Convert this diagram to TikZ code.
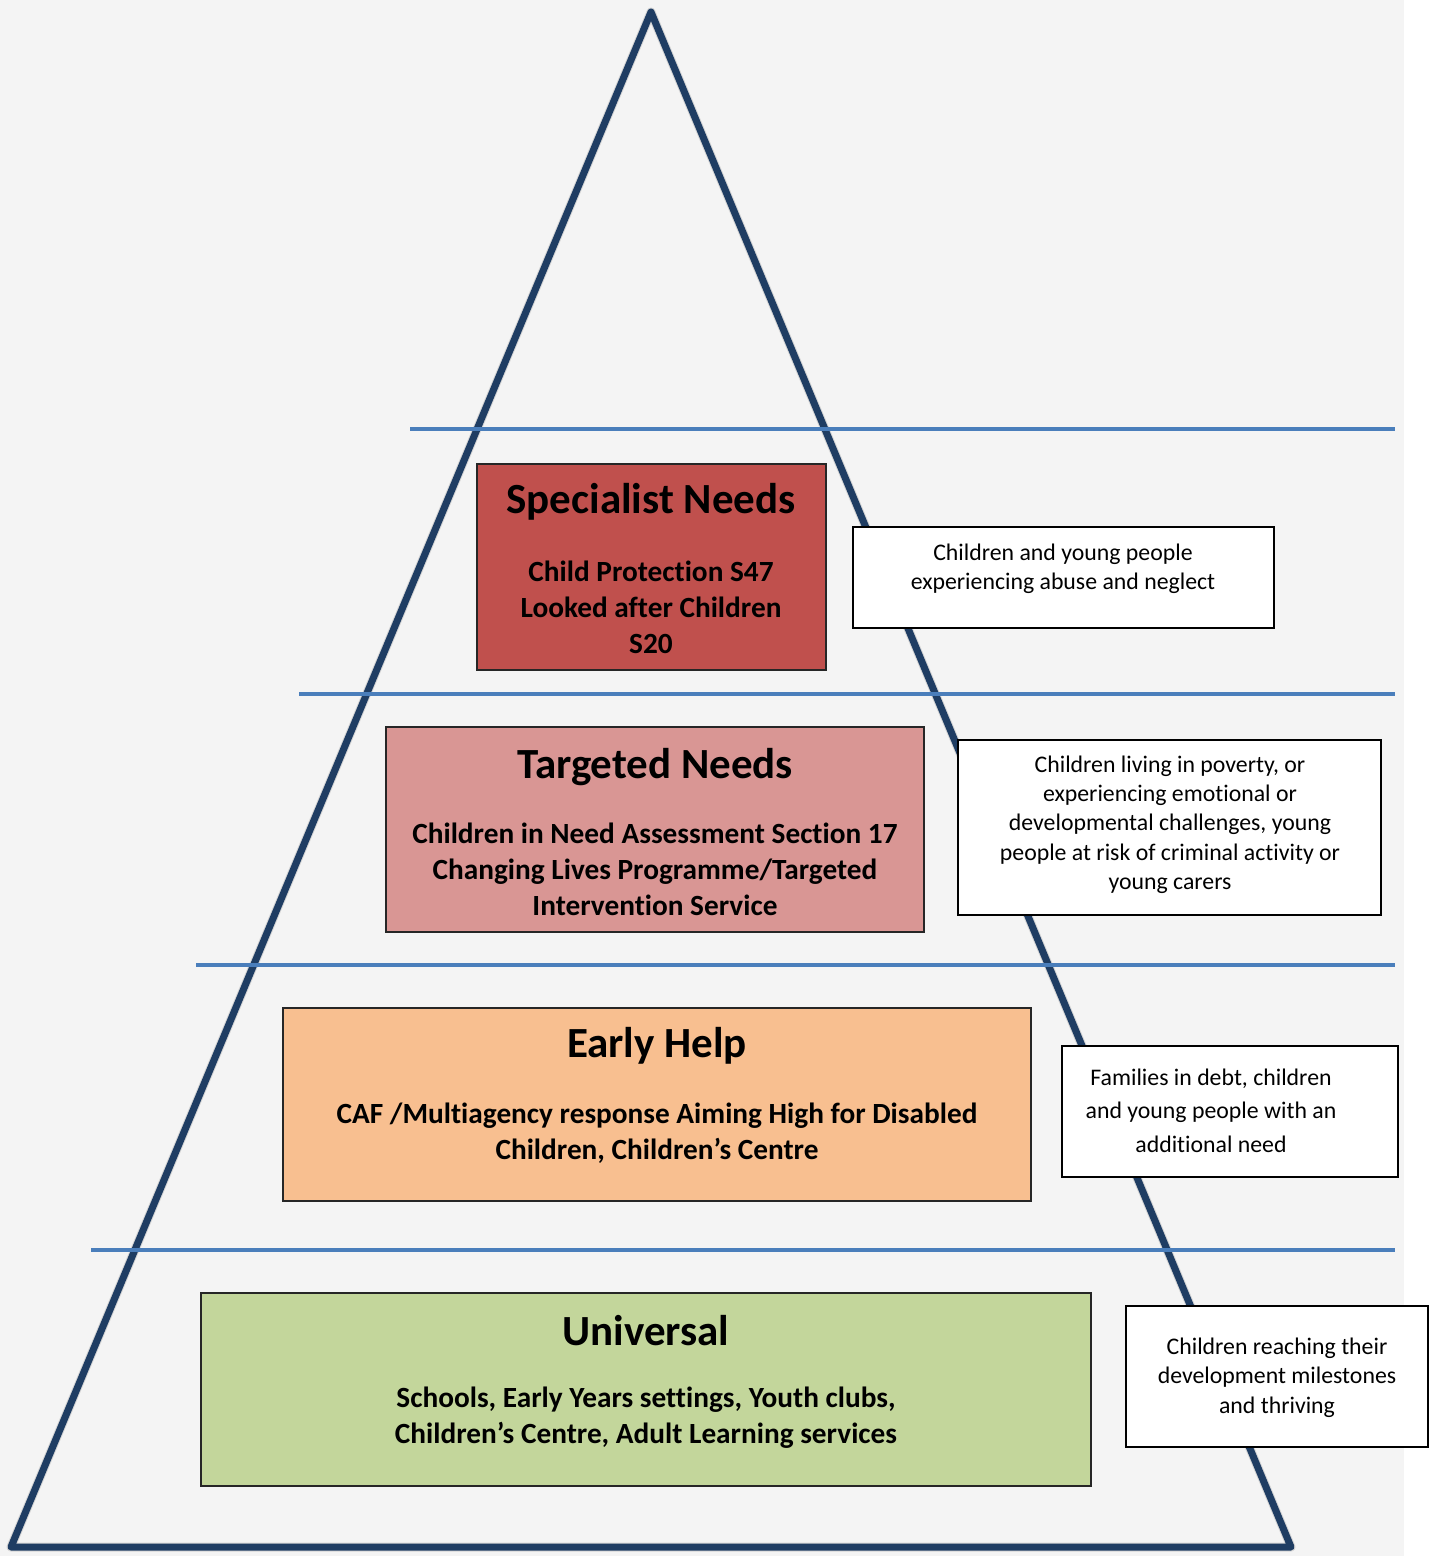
\documentclass[tikz,border=0pt]{standalone}
\usepackage{fontspec}
\setmainfont[Ligatures={TeX,NoCommon}]{Carlito}
\usepackage{tikz}
\usepackage{xcolor}
\definecolor{pyramidBlue}{RGB}{31,61,99}
\definecolor{tierLine}{RGB}{74,126,187}
\definecolor{specialistRed}{RGB}{192,80,77}
\definecolor{targetedPink}{RGB}{217,150,148}
\definecolor{earlyOrange}{RGB}{248,191,144}
\definecolor{universalGreen}{RGB}{195,214,155}
\definecolor{paper}{RGB}{244,244,244}
\tikzstyle{tierBox}=[draw=black!85, line width=2pt, inner sep=0pt]
\tikzstyle{tierTitle}=[font=\bfseries\fontsize{43}{50}\selectfont, align=center, inner sep=0pt]
\tikzstyle{tierText}=[font=\bfseries\fontsize{29.3}{36}\selectfont, align=center, inner sep=0pt]
\tikzstyle{needBox}=[draw=black, line width=2pt, fill=white, inner sep=0pt]
\tikzstyle{needText}=[font=\fontsize{23.8}{29.3}\selectfont, align=center, inner sep=0pt]
\tikzstyle{tierRule}=[draw=tierLine, line width=4pt]

\begin{document}
\begin{tikzpicture}[x=1pt, y=-1pt]
  \useasboundingbox (0,0) rectangle (1434,1556);
  \fill[paper] (0,0) rectangle (1404,1556);

  % Pyramid
  \coordinate (apex) at (651,12);
  \coordinate (baseleft) at (11,1547);
  \coordinate (baseright) at (1291,1547);
  \draw[black, opacity=0.12, line width=9pt, line join=round, shift={(3,4)}] (apex) -- (baseright) -- (baseleft) -- cycle;
  \draw[pyramidBlue, line width=7pt, line join=round] (apex) -- (baseright) -- (baseleft) -- cycle;

  % Tier rules
  \foreach \y/\x in {429/410, 694/299, 965/196, 1250/91}
    \draw[tierRule] (\x,\y) -- (1395,\y);

  % Nodes
  \node (specialist) at (651.5,567) [tierBox, fill=specialistRed, minimum width=349pt, minimum height=206pt] {};
  \node (specialisttitle) at (651,502) [tierTitle] {Specialist Needs};
  \node (specialisttext) at (651,607) [tierText] {Child Protection S47\\Looked after Children\\S20};

  \node (targeted) at (655,829.5) [tierBox, fill=targetedPink, minimum width=538pt, minimum height=205pt] {};
  \node (targetedtitle) at (655,767) [tierTitle] {Targeted Needs};
  \node (targetedtext) at (655,869) [tierText] {Children in Need Assessment Section 17\\Changing Lives Programme/Targeted\\Intervention Service};

  \node (earlyhelp) at (657,1104.5) [tierBox, fill=earlyOrange, minimum width=748pt, minimum height=193pt] {};
  \node (earlyhelptitle) at (657,1046) [tierTitle] {Early Help};
  \node (earlyhelptext) at (657,1133) [tierText] {CAF /Multiagency response Aiming High for Disabled\\Children, Children’s Centre};

  \node (universal) at (646,1389.5) [tierBox, fill=universalGreen, minimum width=890pt, minimum height=193pt] {};
  \node (universaltitle) at (646,1331) [tierTitle] {Universal};
  \node (universaltext) at (646,1418) [tierText] {Schools, Early Years settings, Youth clubs,\\Children’s Centre, Adult Learning services};

  % Needs descriptions
  \node (specialistneed) at (1063.5,577.5) [needBox, minimum width=421pt, minimum height=101pt] {};
  \node (specialistneedtext) at (1063,568.5) [needText] {Children and young people\\experiencing abuse and neglect};

  \node (targetedneed) at (1169.5,827.5) [needBox, minimum width=423pt, minimum height=175pt] {};
  \node (targetedneedtext) at (1170,824.5) [needText] {Children living in poverty, or\\experiencing emotional or\\developmental challenges, young\\people at risk of criminal activity or\\young carers};

  \node (earlyhelpneed) at (1230,1111.5) [needBox, minimum width=336pt, minimum height=131pt] {};
  \node (earlyhelpneedtext) at (1211,1110.5) [needText, font=\fontsize{23.8}{33.5}\selectfont] {Families in debt, children\\and young people with an\\additional need};

  \node (universalneed) at (1277,1376.5) [needBox, minimum width=302pt, minimum height=141pt] {};
  \node (universalneedtext) at (1277,1377.5) [needText] {Children reaching their\\development milestones\\and thriving};

\end{tikzpicture}
\end{document}
